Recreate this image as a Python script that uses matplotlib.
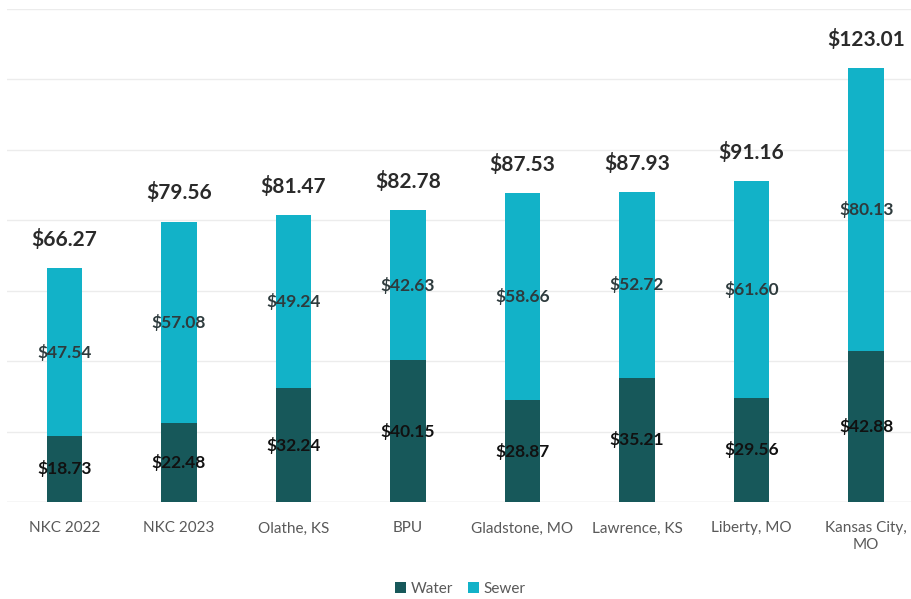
import matplotlib.pyplot as plt
import numpy as np

# ------------------------------
# DATA
# ------------------------------
categories = ["NKC 2022", "NKC 2023", "Olathe, KS", "BPU", "Gladstone, MO",
              "Lawrence, KS", "Liberty, MO", "Kansas City,\nMO"]
water = [18.73, 22.48, 32.24, 40.15, 28.87, 35.21, 29.56, 42.88]
sewer = [47.54, 57.08, 49.24, 42.63, 58.66, 52.72, 61.60, 80.13]
totals = [66.27, 79.56, 81.47, 82.78, 87.53, 87.93, 91.16, 123.01]

WATER_COLOR = "#17585a"
SEWER_COLOR = "#12b2c8"

plt.rcParams['font.family'] = ['Lato', 'DejaVu Sans']

# ------------------------------
# PLOT
# ------------------------------
fig = plt.figure(figsize=(9.12, 5.99), dpi=100)
ax = fig.add_axes([7 / 912, 97 / 599, 905 / 912, 493.5 / 599])

x = np.arange(len(categories))
width = 0.31
ax.bar(x, water, width, color=WATER_COLOR, label="Water", zorder=2)
ax.bar(x, sewer, width, bottom=water, color=SEWER_COLOR, label="Sewer", zorder=2)

for i in range(len(categories)):
    ax.text(x[i], water[i] / 2, f"${water[i]:.2f}", ha="center", va="center",
            fontsize=12.5, fontweight="bold", color="#111111", zorder=3)
    ax.text(x[i], water[i] + sewer[i] / 2, f"${sewer[i]:.2f}", ha="center",
            va="center", fontsize=12.5, fontweight="bold", color="#2e3b3d", zorder=3)
    ax.annotate(f"${totals[i]:.2f}", (x[i], totals[i]), xytext=(0, 13),
                textcoords="offset points", ha="center", va="bottom",
                fontsize=15, fontweight="bold", color="#2a2a2a")

ax.set_xlim(-0.5, 7.4)
ax.set_ylim(0, 140)
ax.set_yticks(np.arange(0, 141, 20))
ax.set_yticklabels([])
ax.yaxis.grid(True, color="#ececec", linewidth=1, zorder=0)
ax.tick_params(axis="y", length=0)
ax.tick_params(axis="x", length=0, pad=14, labelsize=11, labelcolor="#595959")
ax.set_xticks(x)
ax.set_xticklabels(categories)
for s in ax.spines.values():
    s.set_visible(False)
ax.axhline(0, color="#e3e3e3", linewidth=1, zorder=1)

fig.legend(loc="lower center", bbox_to_anchor=(0.505, -0.018), ncol=2, frameon=False,
           fontsize=11, labelcolor="#595959", handlelength=0.7, handleheight=0.7,
           handletextpad=0.3, columnspacing=1.0)

plt.savefig("out.png", dpi=100)
plt.close()
